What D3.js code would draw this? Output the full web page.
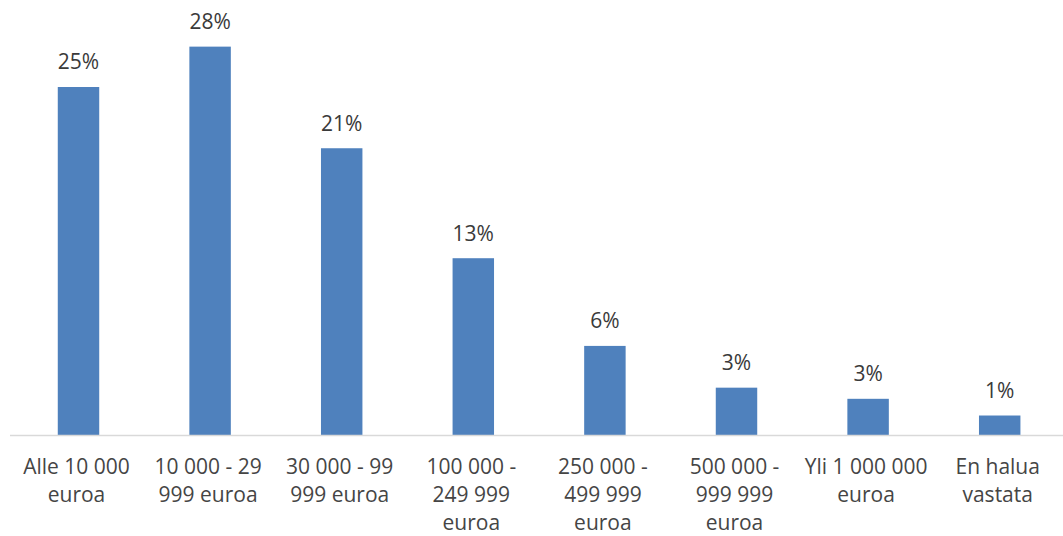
<!DOCTYPE html>
<html>
<head>
<meta charset="utf-8">
<script src="https://cdn.jsdelivr.net/npm/d3@7"></script>
<style>
  html, body { margin: 0; padding: 0; background: #ffffff; }
  svg { display: block; }
  text { font-family: "Open Sans", "Noto Sans", sans-serif; }
</style>
</head>
<body>
<svg id="chart" width="1063" height="536"></svg>
<script>
// Share of respondents by amount (euros)
const categories = [
  "Alle 10 000 euroa",
  "10 000 - 29 999 euroa",
  "30 000 - 99 999 euroa",
  "100 000 - 249 999 euroa",
  "250 000 - 499 999 euroa",
  "500 000 - 999 999 euroa",
  "Yli 1 000 000 euroa",
  "En halua vastata"
];
// Category labels as wrapped lines
const categoryLines = [
  ["Alle 10 000", "euroa"],
  ["10 000 - 29", "999 euroa"],
  ["30 000 - 99", "999 euroa"],
  ["100 000 -", "249 999", "euroa"],
  ["250 000 -", "499 999", "euroa"],
  ["500 000 -", "999 999", "euroa"],
  ["Yli 1 000 000", "euroa"],
  ["En halua", "vastata"]
];
// Shares (fractions); labels show them rounded to whole percents
const shares = [0.250, 0.279, 0.206, 0.127, 0.064, 0.034, 0.026, 0.014];
const yDomain = [0, 0.30];

const svg = d3.select("#chart");
const baseY = 435;

const x = d3.scaleBand()
  .domain(categories)
  .range([12.7, 1065.5])
  .paddingInner(0.685)
  .paddingOuter(0.3425);

const y = d3.scaleLinear()
  .domain(yDomain)
  .range([baseY, baseY - 0.30 * 1392]);

const fmt = d3.format(".0%");

// Bars
svg.append("g")
  .selectAll("rect")
  .data(shares)
  .join("rect")
  .attr("x", (d, i) => x(categories[i]))
  .attr("y", d => y(d))
  .attr("width", x.bandwidth())
  .attr("height", d => y(0) - y(d))
  .attr("fill", "#4f81bd");

// Baseline axis
const axis = svg.append("g")
  .attr("transform", `translate(0,${baseY})`)
  .call(d3.axisBottom(x).tickSize(0).tickFormat(""));
axis.select(".domain")
  .attr("d", "M10,0.5H1063")
  .attr("stroke", "#d9d9d9")
  .attr("stroke-width", 1.3);

// Category labels
axis.selectAll(".tick text").remove();
axis.selectAll(".tick").each(function(d, i) {
  const t = d3.select(this).append("text")
    .attr("fill", "#454545")
    .attr("font-size", "21px")
    .attr("text-anchor", "middle")
    .attr("y", 39);
  categoryLines[i].forEach((line, k) => {
    t.append("tspan")
      .attr("x", -2)
      .attr("y", 39 + k * 28)
      .text(line);
  });
});

// Value labels
svg.append("g")
  .selectAll("text")
  .data(shares)
  .join("text")
  .attr("x", (d, i) => x(categories[i]) + x.bandwidth() / 2)
  .attr("y", d => y(d) - 17.7)
  .attr("text-anchor", "middle")
  .attr("fill", "#3a3a3a")
  .attr("font-size", "21px")
  .text(d => fmt(d));
</script>
</body>
</html>
